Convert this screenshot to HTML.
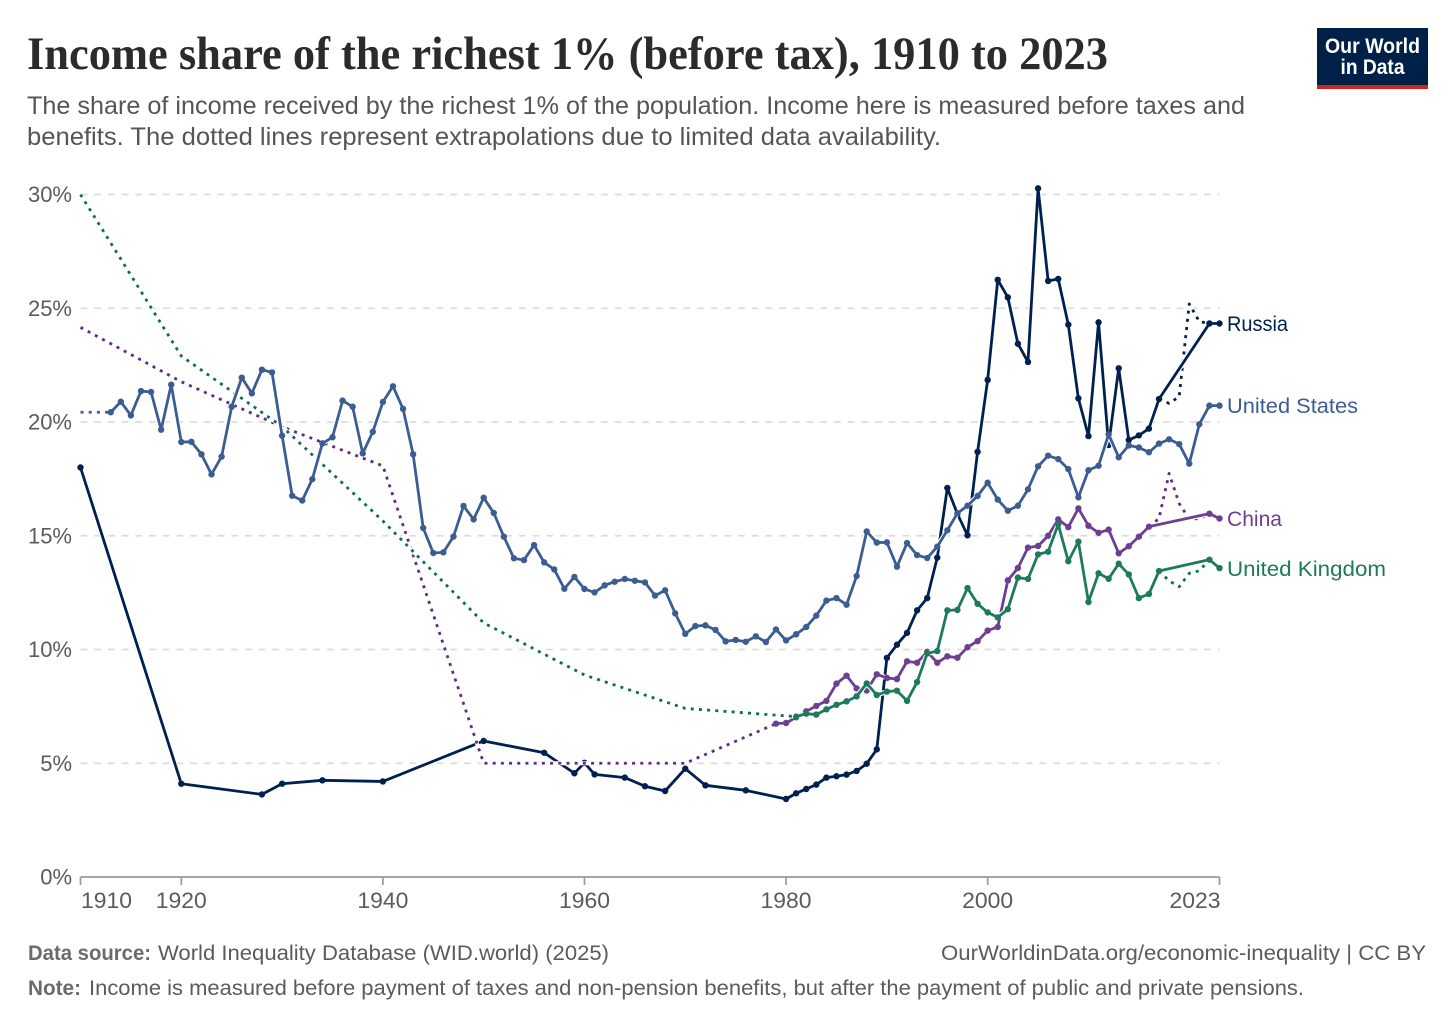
<!DOCTYPE html>
<html lang="en">
<head>
<meta charset="utf-8">
<title>Income share of the richest 1% (before tax), 1910 to 2023</title>
<style>
html,body{margin:0;padding:0;background:#fff;}
svg{display:block;font-family:"Liberation Sans",sans-serif;}
</style>
</head>
<body>
<svg id="chart" width="1456" height="1028" viewBox="0 0 1456 1028" xmlns="http://www.w3.org/2000/svg">
  <rect x="0" y="0" width="1456" height="1028" fill="#fff"/>
  <text x="27" y="69" font-family="'Liberation Serif',serif" font-weight="700" font-size="47" fill="#2b2b2b" textLength="1081" lengthAdjust="spacingAndGlyphs">Income share of the richest 1% (before tax), 1910 to 2023</text>
  <text x="27" y="114" font-size="25" fill="#555" textLength="1218" lengthAdjust="spacingAndGlyphs">The share of income received by the richest 1% of the population. Income here is measured before taxes and</text>
  <text x="27" y="145" font-size="25" fill="#555" textLength="914" lengthAdjust="spacingAndGlyphs">benefits. The dotted lines represent extrapolations due to limited data availability.</text>

  <g>
    <rect x="1317" y="28" width="111" height="61" fill="#002147"/>
    <rect x="1317" y="85" width="111" height="4" fill="#ce261e"/>
    <text x="1372.5" y="53" text-anchor="middle" font-size="21" font-weight="700" fill="#fff" textLength="95" lengthAdjust="spacingAndGlyphs">Our World</text>
    <text x="1372.5" y="74" text-anchor="middle" font-size="21" font-weight="700" fill="#fff" textLength="64" lengthAdjust="spacingAndGlyphs">in Data</text>
  </g>

  <g id="grid"></g>
  <g id="axes"></g>
  <g id="series"></g>

  <text x="1227" y="331" font-size="21.5" fill="#00204f" textLength="61" lengthAdjust="spacingAndGlyphs">Russia</text>
  <text x="1227" y="413" font-size="21.5" fill="#3c5d92" textLength="131" lengthAdjust="spacingAndGlyphs">United States</text>
  <text x="1227" y="526" font-size="21.5" fill="#6d3e91" textLength="55" lengthAdjust="spacingAndGlyphs">China</text>
  <text x="1227" y="576" font-size="21.5" fill="#1d7a5c" textLength="159" lengthAdjust="spacingAndGlyphs">United Kingdom</text>

  <text x="28" y="960" font-size="21" font-weight="700" fill="#6b6b6b" textLength="123" lengthAdjust="spacingAndGlyphs">Data source:</text>
  <text x="158" y="960" font-size="21" fill="#5b5b5b" textLength="451" lengthAdjust="spacingAndGlyphs">World Inequality Database (WID.world) (2025)</text>
  <a><text x="1426" y="960" text-anchor="end" font-size="21" fill="#5b5b5b" textLength="485" lengthAdjust="spacingAndGlyphs">OurWorldinData.org/economic-inequality | CC BY</text></a>
  <text x="28" y="995" font-size="21" font-weight="700" fill="#6b6b6b" textLength="53" lengthAdjust="spacingAndGlyphs">Note:</text>
  <text x="89" y="995" font-size="21" fill="#5b5b5b" textLength="1215" lengthAdjust="spacingAndGlyphs">Income is measured before payment of taxes and non-pension benefits, but after the payment of public and private pensions.</text>
</svg>
<script>
// Axis data
const yTicks = [0, 5, 10, 15, 20, 25, 30];
const xTicks = [1910, 1920, 1940, 1960, 1980, 2000, 2023];

// United States
const usYears = [1913,1914,1915,1916,1917,1918,1919,1920,1921,1922,1923,1924,1925,1926,1927,1928,1929,1930,1931,1932,1933,1934,1935,1936,1937,1938,1939,1940,1941,1942,1943,1944,1945,1946,1947,1948,1949,1950,1951,1952,1953,1954,1955,1956,1957,1958,1959,1960,1961,1962,1963,1964,1965,1966,1967,1968,1969,1970,1971,1972,1973,1974,1975,1976,1977,1978,1979,1980,1981,1982,1983,1984,1985,1986,1987,1988,1989,1990,1991,1992,1993,1994,1995,1996,1997,1998,1999,2000,2001,2002,2003,2004,2005,2006,2007,2008,2009,2010,2011,2012,2013,2014,2015,2016,2017,2018,2019,2020,2021,2022,2023];
const usValues = [20.43,20.89,20.29,21.36,21.32,19.66,21.64,19.12,19.13,18.58,17.70,18.48,20.67,21.95,21.26,22.30,22.18,19.40,16.76,16.55,17.49,19.06,19.33,20.94,20.67,18.62,19.57,20.88,21.57,20.58,18.58,15.34,14.24,14.27,14.96,16.31,15.72,16.67,16.00,14.96,14.01,13.93,14.59,13.83,13.52,12.67,13.19,12.66,12.51,12.82,12.98,13.10,13.02,12.95,12.37,12.60,11.59,10.69,11.03,11.06,10.86,10.36,10.42,10.34,10.58,10.33,10.88,10.40,10.67,10.99,11.49,12.15,12.26,11.97,13.23,15.19,14.70,14.71,13.64,14.68,14.15,14.02,14.52,15.24,15.99,16.32,16.75,17.33,16.59,16.10,16.32,17.04,18.05,18.52,18.37,17.93,16.69,17.88,18.08,19.46,18.45,18.97,18.88,18.67,19.05,19.24,19.03,18.17,19.90,20.72,20.72];
const usDottedYears = [1910, 1913];
const usDottedValues = [20.43, 20.43];

// Russia
const ruYears = [1910,1920,1928,1930,1934,1940,1950,1956,1959,1960,1961,1964,1966,1968,1970,1972,1976,1980,1981,1982,1983,1984,1985,1986,1987,1988,1989,1990,1991,1992,1993,1994,1995,1996,1997,1998,1999,2000,2001,2002,2003,2004,2005,2006,2007,2008,2009,2010,2011,2012,2013,2014,2015,2016,2017,2022,2023];
const ruValues = [18.0,4.1,3.63,4.1,4.25,4.2,5.98,5.46,4.56,5.02,4.51,4.37,3.99,3.78,4.76,4.03,3.81,3.43,3.68,3.87,4.06,4.37,4.43,4.50,4.66,4.98,5.61,9.63,10.21,10.73,11.72,12.26,14.04,17.10,15.96,15.02,18.69,21.85,26.25,25.48,23.44,22.64,30.27,26.20,26.29,24.28,21.04,19.38,24.38,18.99,22.36,19.21,19.41,19.71,21.01,24.33,24.33];
const ruDottedYears = [2017,2018,2019,2020,2021,2022];
const ruDottedValues = [21.01,20.82,21.11,25.19,24.41,24.33];

// China
const cnYears = [1979,1980,1981,1982,1983,1984,1985,1986,1987,1988,1989,1990,1991,1992,1993,1994,1995,1996,1997,1998,1999,2000,2001,2002,2003,2004,2005,2006,2007,2008,2009,2010,2011,2012,2013,2014,2015,2016,2022,2023];
const cnValues = [6.74,6.77,7.02,7.28,7.52,7.74,8.50,8.85,8.29,8.20,8.91,8.75,8.70,9.48,9.42,9.90,9.42,9.70,9.64,10.10,10.37,10.83,10.99,13.04,13.58,14.48,14.55,15.00,15.72,15.38,16.20,15.44,15.13,15.27,14.23,14.54,14.96,15.40,15.97,15.76];
const cnDottedEarlyYears = [1910,1920,1930,1940,1950,1960,1970,1979];
const cnDottedEarlyValues = [24.16,21.77,19.79,18.07,5.0,5.0,5.0,6.74];
const cnDottedLateYears = [2016,2017,2018,2019,2020,2021,2022];
const cnDottedLateValues = [15.40,15.76,17.74,16.42,15.73,15.75,15.97];

// United Kingdom
const ukYears = [1981,1982,1983,1984,1985,1986,1987,1988,1989,1990,1991,1992,1993,1994,1995,1996,1997,1998,1999,2000,2001,2002,2003,2004,2005,2006,2007,2008,2009,2010,2011,2012,2013,2014,2015,2016,2017,2022,2023];
const ukValues = [7.05,7.18,7.14,7.37,7.57,7.72,7.94,8.51,8.00,8.15,8.19,7.74,8.57,9.83,9.93,11.72,11.74,12.70,12.01,11.63,11.41,11.77,13.16,13.10,14.18,14.30,15.50,13.88,14.74,12.09,13.35,13.11,13.77,13.30,12.26,12.44,13.45,13.95,13.58];
const ukDottedEarlyYears = [1910,1920,1930,1940,1950,1960,1970,1981];
const ukDottedEarlyValues = [30.0,22.9,19.8,15.65,11.17,8.88,7.41,7.05];
const ukDottedLateYears = [2017,2018,2019,2020,2021,2022];
const ukDottedLateValues = [13.45,13.02,12.76,13.35,13.46,13.95];

// Axis functions
const plotLeft = 80.5, plotRight = 1219.5, plotBottom = 877, plotTop = 194.5;
function xScale(year) { return plotLeft + (year - 1910) * (plotRight - plotLeft) / (2023 - 1910); }
function yScale(value) { return plotBottom - value * (plotBottom - plotTop) / 30; }

const NS = 'http://www.w3.org/2000/svg';
function make(tag, attrs, parent) {
  const el = document.createElementNS(NS, tag);
  for (const k in attrs) el.setAttribute(k, attrs[k]);
  parent.appendChild(el);
  return el;
}
function pathFor(years, values) {
  return years.map((y, i) => (i ? 'L' : 'M') + xScale(y).toFixed(2) + ' ' + yScale(values[i]).toFixed(2)).join(' ');
}

// Gridlines and y-axis labels
const gridGroup = document.getElementById('grid');
const axesGroup = document.getElementById('axes');
yTicks.forEach(function (t) {
  if (t !== 0) {
    const g = make('line', {x1: plotLeft, x2: plotRight, y1: yScale(t), y2: yScale(t), stroke: '#dcdcdc', 'stroke-width': 1.7, 'stroke-dasharray': '6.8 6.9'}, gridGroup);
    
    
  }
  const lab = make('text', {x: 72, y: yScale(t) + 7.5, 'text-anchor': 'end', 'font-size': 22, fill: '#5b5b5b'}, axesGroup);
  lab.textContent = t + '%';
  
  
});

// X axis
const axisLine = make('line', {x1: plotLeft, x2: plotRight, y1: plotBottom, y2: plotBottom, stroke: '#999', 'stroke-width': 1.7}, axesGroup);


xTicks.forEach(function (t, i) {
  const tick = make('line', {x1: xScale(t), x2: xScale(t), y1: plotBottom, y2: plotBottom + 8, stroke: '#999', 'stroke-width': 1.7}, axesGroup);
  
  
  let anchor = 'middle', px = xScale(t);
  if (i === 0) { anchor = 'start'; px = xScale(t) + 0.5; }
  if (i === xTicks.length - 1) { anchor = 'end'; px = xScale(t) + 1; }
  const lab = make('text', {x: px, y: 908, 'text-anchor': anchor, 'font-size': 22, fill: '#5b5b5b', textLength: 51, lengthAdjust: 'spacingAndGlyphs'}, axesGroup);
  lab.textContent = String(t);
  
  
});

// Series
const seriesGroup = document.getElementById('series');
function drawDotted(parent, years, values, color, name) {
  const halo = make('path', {d: pathFor(years, values), fill: 'none', stroke: '#fff', 'stroke-width': 4, 'stroke-linejoin': 'round'}, parent);
  
  
  const line = make('path', {d: pathFor(years, values), fill: 'none', stroke: color, 'stroke-width': 2.8, 'stroke-dasharray': '3 5.2', 'stroke-linejoin': 'round'}, parent);
  
  
}
function drawSolid(parent, years, values, color, name) {
  const halo = make('path', {d: pathFor(years, values), fill: 'none', stroke: '#fff', 'stroke-width': 5, 'stroke-linejoin': 'round'}, parent);
  
  
  const line = make('path', {d: pathFor(years, values), fill: 'none', stroke: color, 'stroke-width': 2.8, 'stroke-linejoin': 'round'}, parent);
  
  
  years.forEach(function (y, i) {
    const c = make('circle', {cx: xScale(y), cy: yScale(values[i]), r: 3.2, fill: color}, parent);
    
    
  });
}

const ruGroup = make('g', {}, seriesGroup);


drawDotted(ruGroup, ruDottedYears, ruDottedValues, '#00204f', 'russia-dotted');
drawSolid(ruGroup, ruYears, ruValues, '#00204f', 'russia');

const cnGroup = make('g', {}, seriesGroup);


drawDotted(cnGroup, cnDottedEarlyYears, cnDottedEarlyValues, '#5f2d86', 'china-dotted-early');
drawDotted(cnGroup, cnDottedLateYears, cnDottedLateValues, '#5f2d86', 'china-dotted-late');
drawSolid(cnGroup, cnYears, cnValues, '#6d3e91', 'china');

const ukGroup = make('g', {}, seriesGroup);


drawDotted(ukGroup, ukDottedEarlyYears, ukDottedEarlyValues, '#0f6e52', 'uk-dotted-early');
drawDotted(ukGroup, ukDottedLateYears, ukDottedLateValues, '#0f6e52', 'uk-dotted-late');
drawSolid(ukGroup, ukYears, ukValues, '#1d7a5c', 'uk');

const usGroup = make('g', {}, seriesGroup);


drawDotted(usGroup, usDottedYears, usDottedValues, '#3c5d92', 'us-dotted');
drawSolid(usGroup, usYears, usValues, '#3c5d92', 'us');
</script>
</body>
</html>
